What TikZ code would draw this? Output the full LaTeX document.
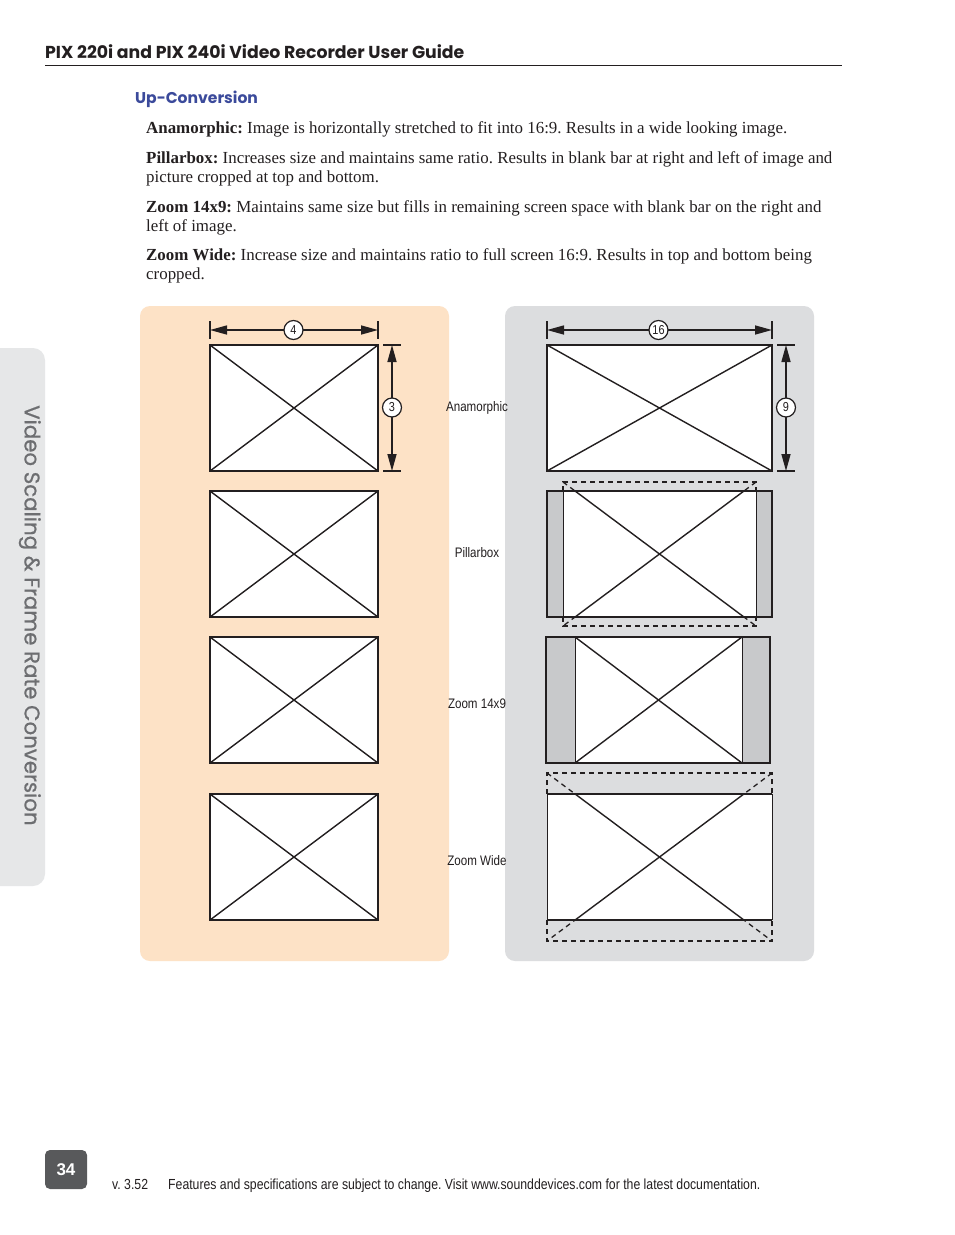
\documentclass[tikz,border=0pt]{standalone}
\usepackage{fontspec}
\setmainfont{Liberation Serif}
\newfontfamily\futura{Poppins}
\newfontfamily\futuramed[FakeBold=0.7]{Poppins}
\newfontfamily\narrow[FakeStretch=0.84]{Liberation Sans}
\newfontfamily\helv{Liberation Sans}
\usetikzlibrary{arrows.meta}
\definecolor{peach}{HTML}{FDE2C6}
\definecolor{panelgray}{HTML}{DCDDDF}
\definecolor{tabgray}{HTML}{E6E7E8}
\definecolor{bargray}{HTML}{C8C9CB}
\definecolor{titleblue}{HTML}{3B4A9B}
\definecolor{numgray}{HTML}{58595B}
\definecolor{tabtext}{HTML}{6D6E71}
\definecolor{ink}{HTML}{231F20}
\tikzset{
  body/.style={anchor=base west, inner sep=0pt, font=\frenchspacing\fontsize{16.9}{19}\selectfont, text=ink},
  framebox/.style={draw=ink, line width=1.6pt},
  diag/.style={draw=ink, line width=1.4pt},
  thinline/.style={draw=ink, line width=1pt},
  dashline/.style={draw=ink, line width=1.3pt, dash pattern=on 5pt off 4pt},
  dimarrow/.style={draw=ink, line width=1.5pt, {Triangle[length=17pt,width=9pt]}-{Triangle[length=17pt,width=9pt]}},
  dimtick/.style={draw=ink, line width=1.5pt},
  dimlabel/.style={circle, draw=ink, line width=1.2pt, fill=white, inner sep=0pt, minimum size=19pt, font=\narrow\fontsize{13}{14}\selectfont, text=ink},
  caption/.style={font=\narrow\fontsize{13.8}{14}\selectfont, text=ink, inner sep=0pt},
  foot/.style={anchor=base west, inner sep=0pt, font=\frenchspacing\narrow\fontsize{14.6}{15}\selectfont, text=ink},
}
\begin{document}
\begin{tikzpicture}[x=1pt,y=-1pt]
\useasboundingbox[fill=white] (0,0) rectangle (954,1235);

% header
\node[anchor=base west, inner sep=0pt, font=\futura\bfseries\fontsize{17.3}{19}\selectfont, text=ink] (hdr) at (45,58) {PIX 220i and PIX 240i Video Recorder User Guide};
\coordinate (rl) at (45,65.5);
\coordinate (rr) at (842,65.5);
\draw[ink, line width=0.9pt] (rl) -- (rr);

\node[anchor=base west, inner sep=0pt, font=\futura\bfseries\fontsize{15.6}{18}\selectfont, text=titleblue] (sec) at (135,103) {Up-Conversion};

% paragraphs
\node[body] (p1) at (146,133) {\textbf{Anamorphic:} Image is horizontally stretched to fit into 16:9. Results in a wide looking image.};
\node[body] (p2a) at (146,163) {\textbf{Pillarbox:} Increases size and maintains same ratio. Results in blank bar at right and left of image and};
\node[body] (p2b) at (146,182) {picture cropped at top and bottom.};
\node[body] (p3a) at (146,212) {\textbf{Zoom 14x9:} Maintains same size but fills in remaining screen space with blank bar on the right and};
\node[body] (p3b) at (146,231) {left of image.};
\node[body] (p4a) at (146,260) {\textbf{Zoom Wide:} Increase size and maintains ratio to full screen 16:9. Results in top and bottom being};
\node[body] (p4b) at (146,279) {cropped.};

% side tab
\fill[tabgray, rounded corners=12pt] (-20,348) rectangle (45,886);
\node[rotate=-90, anchor=north west, inner sep=0pt, font=\futuramed\fontsize{21.3}{24}\selectfont, text=tabtext] (tab) at (41,405) {Video Scaling \& Frame Rate Conversion};

% panels
\fill[peach, rounded corners=10pt] (140,306) rectangle (449,961);
\fill[panelgray, rounded corners=10pt] (505,306) rectangle (814,961);

% ---------- left column (4:3) ----------
\foreach \yt/\nm in {345/A, 491/B, 637/C, 794/D}{
  \pgfmathsetmacro{\yb}{\yt+126}
  \fill[white] (210,\yt) rectangle (378,\yb);
  \draw[diag] (210,\yt) -- (378,\yb);
  \draw[diag] (378,\yt) -- (210,\yb);
  \draw[framebox] (210,\yt) rectangle (378,\yb);
}
% dimension 4
\coordinate (l4a) at (210,330);
\coordinate (l4b) at (378,330);
\draw[dimtick] (210,321) -- (210,339);
\draw[dimtick] (378,321) -- (378,339);
\draw[dimarrow] (l4a) -- (l4b);
\node[dimlabel] (n4) at (293.5,330) {4};
% dimension 3
\coordinate (l3a) at (392,345);
\coordinate (l3b) at (392,471);
\draw[dimtick] (383,345) -- (401,345);
\draw[dimtick] (383,471) -- (401,471);
\draw[dimarrow] (l3a) -- (l3b);
\node[dimlabel] (n3) at (392,407.5) {3};

% captions
\node[caption] (cA) at (477,407.5) {Anamorphic};
\node[caption] (cB) at (477,552.5) {Pillarbox};
\node[caption] (cC) at (477,703.5) {Zoom 14x9};
\node[caption] (cD) at (477,860.5) {Zoom Wide};

% ---------- right column (16:9) ----------
% anamorphic
\fill[white] (547,345) rectangle (772,471);
\draw[diag] (547,345) -- (772,471);
\draw[diag] (772,345) -- (547,471);
\draw[framebox] (547,345) rectangle (772,471);
\coordinate (r16a) at (547,330);
\coordinate (r16b) at (772,330);
\draw[dimtick] (547,321) -- (547,339);
\draw[dimtick] (772,321) -- (772,339);
\draw[dimarrow] (r16a) -- (r16b);
\node[dimlabel] (n16) at (658.5,330) {16};
\coordinate (r9a) at (786,345);
\coordinate (r9b) at (786,471);
\draw[dimtick] (777,345) -- (795,345);
\draw[dimtick] (777,471) -- (795,471);
\draw[dimarrow] (r9a) -- (r9b);
\node[dimlabel] (n9) at (786,407.5) {9};

% pillarbox
\fill[bargray] (547,491) rectangle (563,617);
\fill[bargray] (756,491) rectangle (772,617);
\fill[white] (563,491) rectangle (756,617);
\draw[dashline] (563,482) -- (756,626);
\draw[dashline] (756,482) -- (563,626);
\begin{scope}
  \clip (563,491) rectangle (756,617);
  \fill[white] (563,491) rectangle (756,617);
  \draw[diag] (563,482) -- (756,626);
  \draw[diag] (756,482) -- (563,626);
\end{scope}
\draw[thinline] (563,491) -- (563,617);
\draw[thinline] (756,491) -- (756,617);
\draw[framebox] (547,491) rectangle (772,617);
\draw[dashline] (563,491) -- (563,482) -- (756,482) -- (756,491);
\draw[dashline] (563,617) -- (563,626) -- (756,626) -- (756,617);

% zoom 14x9
\fill[bargray] (546,637) rectangle (575,763);
\fill[bargray] (742,637) rectangle (770,763);
\fill[white] (575,637) rectangle (742,763);
\draw[diag] (575,637) -- (742,763);
\draw[diag] (742,637) -- (575,763);
\draw[thinline] (575,637) -- (575,763);
\draw[thinline] (742,637) -- (742,763);
\draw[framebox] (546,637) rectangle (770,763);

% zoom wide
\fill[white] (547,794) rectangle (772,920);
\draw[dashline] (547,773) -- (772,941);
\draw[dashline] (772,773) -- (547,941);
\begin{scope}
  \clip (547,794) rectangle (772,920);
  \fill[white] (547,794) rectangle (772,920);
  \draw[diag] (547,773) -- (772,941);
  \draw[diag] (772,773) -- (547,941);
\end{scope}
\draw[framebox] (547,794) -- (772,794);
\draw[framebox] (547,920) -- (772,920);
\draw[thinline] (547,794) -- (547,920);
\draw[thinline] (772,794) -- (772,920);
\draw[dashline] (547,794) -- (547,773) -- (772,773) -- (772,794);
\draw[dashline] (547,920) -- (547,941) -- (772,941) -- (772,920);

% footer
\fill[numgray, rounded corners=5pt] (45,1150) rectangle (87,1189);
\node[font=\helv\bfseries\fontsize{17}{18}\selectfont, text=white, inner sep=0pt] (pg) at (66,1170) {34};
\node[foot] (ver) at (112,1189) {v. 3.52};
\node[foot] (ft) at (168,1189) {Features and specifications are subject to change. Visit www.sounddevices.com for the latest documentation.};
\end{tikzpicture}
\end{document}
